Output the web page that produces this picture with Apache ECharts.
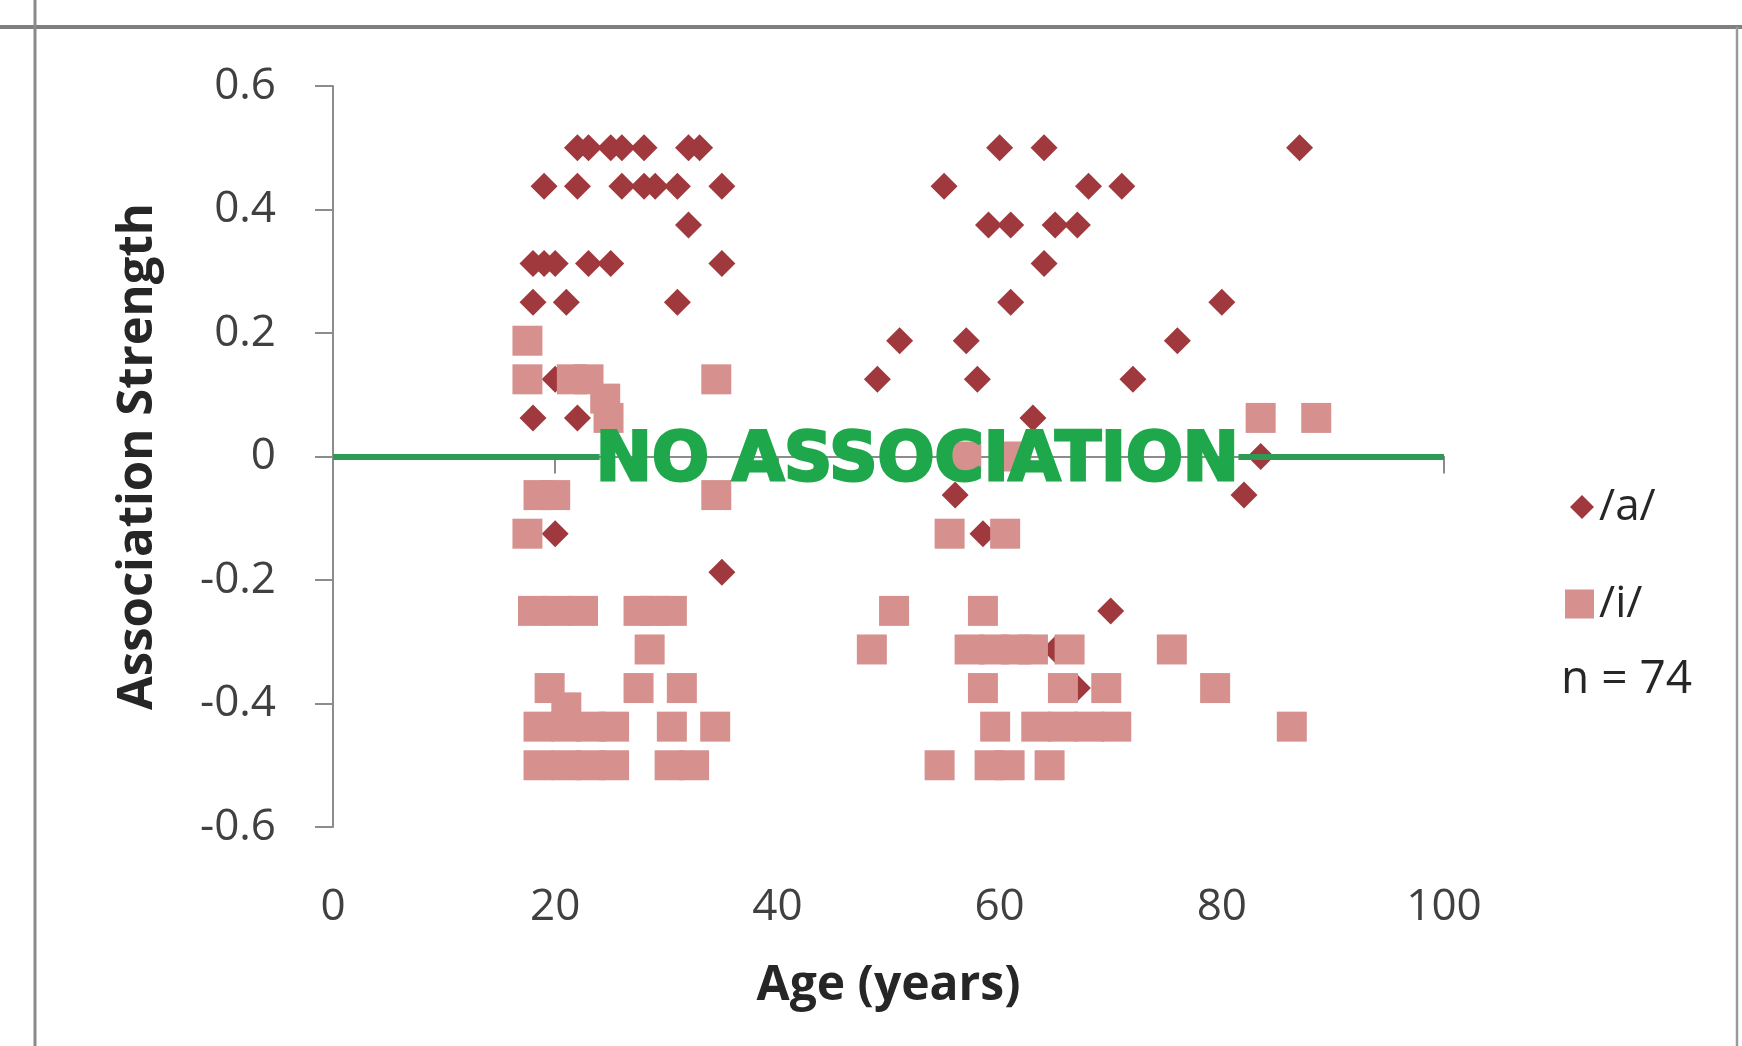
<!DOCTYPE html>
<html>
<head>
<meta charset="utf-8">
<script src="https://cdn.jsdelivr.net/npm/echarts@6/dist/echarts.min.js"></script>
<style>
  html, body { margin: 0; padding: 0; background: #fff; }
  #chart { width: 1742px; height: 1046px; }
</style>
</head>
<body>
<div id="chart"></div>
<script>
// legend names
const seriesNames = ['/a/', '/i/'];

// /a/ (diamonds): age and association strength
const ageA = [
  22, 23, 25, 26, 28, 32, 33, 60, 64, 87,
  19, 22, 26, 28, 29, 31, 35, 55, 68, 71,
  32, 59, 61, 65, 67,
  18, 19, 20, 23, 25, 35, 64,
  18, 21, 31, 61, 80,
  51, 57, 76,
  20, 49, 58, 72,
  18, 22, 63,
  83.5,
  56, 82,
  20, 58.5,
  35,
  18, 70,
  65,
  67
];
const strengthA = [
  0.5, 0.5, 0.5, 0.5, 0.5, 0.5, 0.5, 0.5, 0.5, 0.5,
  0.4375, 0.4375, 0.4375, 0.4375, 0.4375, 0.4375, 0.4375, 0.4375, 0.4375, 0.4375,
  0.375, 0.375, 0.375, 0.375, 0.375,
  0.3125, 0.3125, 0.3125, 0.3125, 0.3125, 0.3125, 0.3125,
  0.25, 0.25, 0.25, 0.25, 0.25,
  0.1875, 0.1875, 0.1875,
  0.125, 0.125, 0.125, 0.125,
  0.0625, 0.0625, 0.0625,
  0,
  -0.0625, -0.0625,
  -0.125, -0.125,
  -0.1875,
  -0.25, -0.25,
  -0.3125,
  -0.375
];

// /i/ (squares): age and association strength
const ageI = [
  17.5,
  17.5, 21.5, 23, 34.5,
  24.5,
  24.8, 83.5, 88.5,
  57, 61.5,
  18.5, 20, 34.5,
  17.5, 55.5, 60.5,
  18, 20.2, 22.5, 27.5, 29, 30.5, 50.5, 58.5,
  28.5, 48.5, 57.3, 59.5, 61.5, 63, 66.3, 75.5,
  19.5, 27.5, 31.4, 58.5, 65.7, 69.6, 79.4,
  21,
  18.5, 21, 23.2, 25.3, 30.5, 34.4, 59.6, 63.3, 65.7, 68.1, 70.5, 86.3,
  18.5, 21, 23.2, 25.3, 30.3, 32.5, 54.6, 59.1, 60.9, 64.5
];
const strengthI = [
  0.1875,
  0.125, 0.125, 0.125, 0.125,
  0.09375,
  0.0625, 0.0625, 0.0625,
  0, 0,
  -0.0625, -0.0625, -0.0625,
  -0.125, -0.125, -0.125,
  -0.25, -0.25, -0.25, -0.25, -0.25, -0.25, -0.25, -0.25,
  -0.3125, -0.3125, -0.3125, -0.3125, -0.3125, -0.3125, -0.3125, -0.3125,
  -0.375, -0.375, -0.375, -0.375, -0.375, -0.375, -0.375,
  -0.40625,
  -0.4375, -0.4375, -0.4375, -0.4375, -0.4375, -0.4375, -0.4375, -0.4375, -0.4375, -0.4375, -0.4375, -0.4375,
  -0.5, -0.5, -0.5, -0.5, -0.5, -0.5, -0.5, -0.5, -0.5, -0.5
];

// "no association" reference line at 0 (broken where the label sits)
const noAssocSpans = [[0, 24], [81.5, 100]];
const noAssocText = 'NO ASSOCIATION';
const noAssocAt = 52.6;
const sampleNote = 'n = 74';

const axisGray = '#8c8c8c';
const labelFont = 'Open Sans';

const chart = echarts.init(document.getElementById('chart'));

const option = {
  animation: false,
  backgroundColor: '#fff',
  grid: { left: 333, top: 86, width: 1111, height: 741 },
  xAxis: [
    {
      type: 'value', min: 0, max: 100, interval: 20, position: 'bottom',
      axisLine: { show: false, onZero: false },
      axisTick: { show: false },
      splitLine: { show: false },
      axisLabel: { fontFamily: labelFont, fontSize: 44, color: '#404040', margin: 58 },
      name: 'Age (years)', nameLocation: 'middle', nameGap: 135,
      nameTextStyle: { fontFamily: labelFont, fontWeight: 'bold', fontSize: 48, color: '#262626' }
    },
    {
      type: 'value', min: 0, max: 100, interval: 20, position: 'bottom',
      axisLine: { show: true, onZero: true, lineStyle: { color: axisGray, width: 2 } },
      axisTick: { show: true, length: 17, lineStyle: { color: axisGray, width: 2 } },
      splitLine: { show: false },
      axisLabel: { show: false }
    }
  ],
  yAxis: {
    type: 'value', min: -0.6, max: 0.6, interval: 0.2,
    axisLine: { show: true, onZero: false, lineStyle: { color: axisGray, width: 2 } },
    axisTick: { show: true, length: 18, lineStyle: { color: axisGray, width: 2 } },
    splitLine: { show: false },
    axisLabel: {
      fontFamily: labelFont, fontSize: 44, color: '#404040', margin: 57,
      formatter: function (v) {
        const r = Math.round(v * 10) / 10;
        return r === 0 ? '0' : String(r);
      }
    },
    name: 'Association Strength', nameLocation: 'middle', nameRotate: 90, nameGap: 170,
    nameTextStyle: { fontFamily: labelFont, fontWeight: 'bold', fontSize: 49, color: '#262626' }
  },
  legend: [
    {
      data: [{ name: seriesNames[0], icon: 'diamond' }],
      orient: 'vertical', left: 1570, top: 485, padding: 0,
      itemWidth: 24, itemHeight: 24,
      textStyle: { fontFamily: labelFont, fontSize: 44, color: '#262626' }
    },
    {
      data: [{ name: seriesNames[1], icon: 'rect' }],
      orient: 'vertical', left: 1565, top: 582, padding: 0,
      itemWidth: 29, itemHeight: 29,
      textStyle: { fontFamily: labelFont, fontSize: 44, color: '#262626' }
    }
  ],
  series: [
    {
      name: seriesNames[0], type: 'scatter', symbol: 'diamond', symbolSize: 27,
      itemStyle: { color: '#a0393d', opacity: 1 },
      data: ageA.map((a, i) => [a, strengthA[i]])
    },
    {
      name: seriesNames[1], type: 'scatter', symbol: 'rect', symbolSize: 30,
      itemStyle: { color: '#d6918f', opacity: 1 },
      data: ageI.map((a, i) => [a, strengthI[i]])
    },
    {
      name: 'noAssoc', type: 'line', data: [], z: 4,
      markLine: {
        silent: true, symbol: ['none', 'none'],
        label: { show: false },
        lineStyle: { color: '#2f9a55', width: 6, type: 'solid' },
        data: noAssocSpans.map(s => [{ coord: [s[0], 0] }, { coord: [s[1], 0] }])
      }
    }
  ]
};
chart.setOption(option);

const p = chart.convertToPixel({ gridIndex: 0 }, [noAssocAt, 0]);
chart.setOption({
  graphic: [
    { type: 'line', z: 50, silent: true, shape: { x1: 0, y1: 27, x2: 1742, y2: 27 }, style: { stroke: '#7f7f7f', lineWidth: 4 } },
    { type: 'line', z: 50, silent: true, shape: { x1: 35, y1: 0, x2: 35, y2: 1046 }, style: { stroke: '#8a8a8a', lineWidth: 3 } },
    { type: 'line', z: 50, silent: true, shape: { x1: 1737, y1: 27, x2: 1737, y2: 1046 }, style: { stroke: '#9a9a9a', lineWidth: 2.5 } },
    {
      type: 'text', z: 100, silent: true, x: p[0], y: p[1] + 6,
      style: {
        text: noAssocText, font: 'bold 67px "DejaVu Sans"', fill: '#1fa84b',
        stroke: '#1fa84b', lineWidth: 3, align: 'center', verticalAlign: 'middle'
      }
    },
    {
      type: 'text', z: 100, silent: true, x: 1561, y: 680,
      style: { text: sampleNote, font: '46px "Open Sans"', fill: '#262626', align: 'left', verticalAlign: 'middle' }
    }
  ]
});
</script>
</body>
</html>
